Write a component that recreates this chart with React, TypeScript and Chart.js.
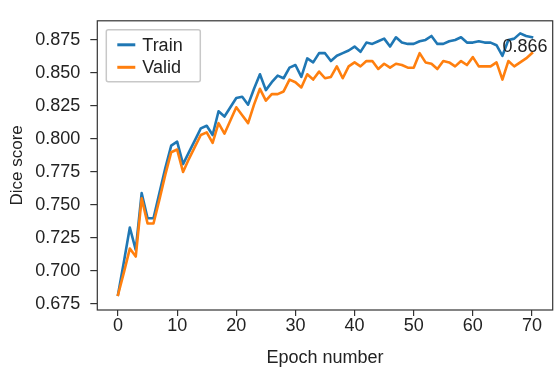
import React, { useEffect, useRef } from "react";
import { Chart, registerables } from "chart.js";

Chart.register(...registerables);

const epochs = [
  0, 1, 2, 3, 4, 5, 6, 7, 8, 9, 10, 11, 12, 13, 14, 15, 16, 17, 18, 19, 20,
  21, 22, 23, 24, 25, 26, 27, 28, 29, 30, 31, 32, 33, 34, 35, 36, 37, 38, 39,
  40, 41, 42, 43, 44, 45, 46, 47, 48, 49, 50, 51, 52, 53, 54, 55, 56, 57, 58,
  59, 60, 61, 62, 63, 64, 65, 66, 67, 68, 69, 70,
];

const trainDice = [
  0.682, 0.707, 0.733, 0.716, 0.759, 0.74, 0.74, 0.759, 0.778, 0.795, 0.798,
  0.781, 0.79, 0.799, 0.808, 0.81, 0.803, 0.821, 0.817, 0.824, 0.831, 0.832,
  0.826, 0.838, 0.849, 0.837, 0.843, 0.848, 0.846, 0.854, 0.856, 0.847, 0.861,
  0.858, 0.865, 0.865, 0.859, 0.863, 0.865, 0.867, 0.87, 0.866, 0.873, 0.872,
  0.874, 0.876, 0.87, 0.877, 0.873, 0.872, 0.872, 0.874, 0.875, 0.878, 0.872,
  0.872, 0.874, 0.875, 0.877, 0.873, 0.873, 0.874, 0.873, 0.873, 0.871, 0.863,
  0.875, 0.876, 0.88, 0.878, 0.877,
];

const validDice = [
  0.682, 0.699, 0.717, 0.711, 0.755, 0.736, 0.736, 0.754, 0.773, 0.79, 0.792,
  0.775, 0.785, 0.794, 0.803, 0.805, 0.797, 0.812, 0.804, 0.814, 0.824, 0.818,
  0.812, 0.826, 0.838, 0.829, 0.834, 0.834, 0.836, 0.845, 0.843, 0.839, 0.849,
  0.845, 0.851, 0.846, 0.847, 0.855, 0.846, 0.855, 0.858, 0.855, 0.859, 0.859,
  0.853, 0.857, 0.854, 0.857, 0.856, 0.854, 0.854, 0.865, 0.858, 0.857, 0.853,
  0.859, 0.858, 0.855, 0.859, 0.856, 0.862, 0.855, 0.855, 0.855, 0.858, 0.845,
  0.859, 0.855, 0.858, 0.861, 0.865,
];

const xTicks = [0, 10, 20, 30, 40, 50, 60, 70];
const yTicks = [0.675, 0.7, 0.725, 0.75, 0.775, 0.8, 0.825, 0.85, 0.875];

const annotX = 65;
const annotY = 0.866;
const annotText = "0.866";

const FONT = '"Liberation Sans", Arial, Helvetica, sans-serif';
const TEXT_COLOR = "#222222";
const AXIS_COLOR = "#333333";

const framePlugin = {
  id: "frameLegendAnnot",
  afterDatasetsDraw(chart: any) {
    const { ctx, chartArea } = chart;
    const { left, top, right, bottom } = chartArea;
    ctx.save();
    ctx.strokeStyle = AXIS_COLOR;
    ctx.lineWidth = 1.2;
    ctx.strokeRect(left, top, right - left, bottom - top);

    const xs = chart.scales.x;
    const ys = chart.scales.y;
    ctx.fillStyle = TEXT_COLOR;
    ctx.font = `18px ${FONT}`;
    ctx.textAlign = "left";
    ctx.textBaseline = "alphabetic";
    ctx.fillText(annotText, xs.getPixelForValue(annotX), ys.getPixelForValue(annotY));

    const bx = left + 9;
    const by = top + 9;
    const bw = 94;
    const bh = 52;
    ctx.fillStyle = "rgba(255,255,255,0.8)";
    ctx.strokeStyle = "#c8c8c8";
    ctx.lineWidth = 1.5;
    ctx.beginPath();
    if ((ctx as any).roundRect) (ctx as any).roundRect(bx, by, bw, bh, 2);
    else ctx.rect(bx, by, bw, bh);
    ctx.fill();
    ctx.stroke();
    const datasets = chart.data.datasets;
    datasets.forEach((ds: any, i: number) => {
      const cy = by + 15 + i * 22.5;
      ctx.strokeStyle = ds.borderColor;
      ctx.lineWidth = 3;
      ctx.lineCap = "butt";
      ctx.beginPath();
      ctx.moveTo(bx + 11, cy);
      ctx.lineTo(bx + 29, cy);
      ctx.stroke();
      ctx.fillStyle = TEXT_COLOR;
      ctx.font = `18px ${FONT}`;
      ctx.textAlign = "left";
      ctx.textBaseline = "middle";
      ctx.fillText(ds.label, bx + 36, cy + 1);
    });
    ctx.restore();
  },
};

export default function App() {
  const canvasRef = useRef<HTMLCanvasElement | null>(null);

  useEffect(() => {
    const canvas = canvasRef.current;
    if (!canvas) return;
    const chart = new Chart(canvas, {
      type: "line",
      data: {
        datasets: [
          {
            label: "Train",
            data: epochs.map((e, i) => ({ x: e, y: trainDice[i] })),
            borderColor: "#1f77b4",
            backgroundColor: "#1f77b4",
            borderWidth: 2.6,
            pointRadius: 0,
            tension: 0,
            borderJoinStyle: "round",
            borderCapStyle: "square",
            order: 1,
          },
          {
            label: "Valid",
            data: epochs.map((e, i) => ({ x: e, y: validDice[i] })),
            borderColor: "#ff7f0e",
            backgroundColor: "#ff7f0e",
            borderWidth: 2.6,
            pointRadius: 0,
            tension: 0,
            borderJoinStyle: "round",
            borderCapStyle: "square",
            order: 0,
          },
        ],
      },
      options: {
        responsive: false,
        animation: false,
        devicePixelRatio: 1,
        layout: { padding: { top: 15, right: 1.3, left: 0, bottom: 0 } },
        plugins: {
          legend: { display: false },
          tooltip: { enabled: false },
        },
        scales: {
          x: {
            type: "linear",
            min: -3.5,
            max: 73.5,
            afterBuildTicks: (s: any) => {
              s.ticks = xTicks.map((v) => ({ value: v }));
            },
            afterFit: (s: any) => {
              s.height = 59;
            },
            border: { display: false },
            grid: {
              drawOnChartArea: false,
              drawTicks: true,
              tickLength: 6,
              color: AXIS_COLOR,
              lineWidth: 1.2,
            },
            ticks: {
              autoSkip: false,
              maxRotation: 0,
              padding: -1,
              color: TEXT_COLOR,
              font: { family: FONT, size: 18 },
              callback: (v: any) => String(v),
            },
            title: {
              display: true,
              text: "Epoch number",
              color: TEXT_COLOR,
              font: { family: FONT, size: 18 },
              padding: { top: 0, bottom: 0 },
            },
          },
          y: {
            type: "linear",
            min: 0.6705,
            max: 0.8895,
            afterBuildTicks: (s: any) => {
              s.ticks = yTicks.map((v) => ({ value: v }));
            },
            afterFit: (s: any) => {
              s.width = 97.3;
            },
            border: { display: false },
            grid: {
              drawOnChartArea: false,
              drawTicks: true,
              tickLength: 7,
              color: AXIS_COLOR,
              lineWidth: 1.2,
            },
            ticks: {
              padding: 10,
              color: TEXT_COLOR,
              font: { family: FONT, size: 18 },
              callback: (v: any) => Number(v).toFixed(3),
            },
            title: {
              display: true,
              text: "Dice score",
              color: TEXT_COLOR,
              font: { family: FONT, size: 17 },
              padding: { top: 7, bottom: 0 },
            },
          },
        },
      },
      plugins: [framePlugin],
    } as any);
    return () => chart.destroy();
  }, []);

  return (
    <div style={{ position: "absolute", left: 0, top: 0, width: 554, height: 369, background: "#ffffff" }}>
      <canvas ref={canvasRef} width={554} height={369} style={{ display: "block", width: 554, height: 369 }} />
    </div>
  );
}
